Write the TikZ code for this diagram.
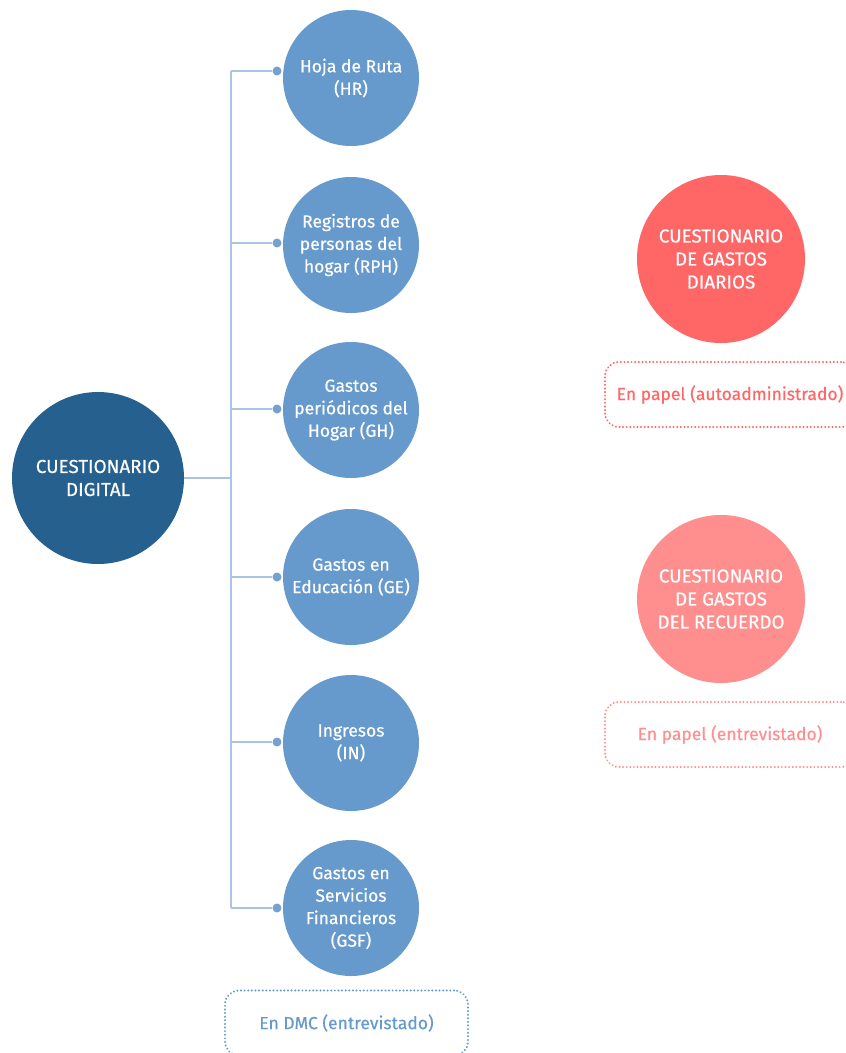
\documentclass[tikz,border=0pt]{standalone}
\usepackage{fontspec}
\setmainfont{Fira Sans}[FakeBold=0.5]
\usepackage{tikz}
\usetikzlibrary{shapes}
\definecolor{dark}{HTML}{25608F}
\definecolor{mid}{HTML}{6699CC}
\definecolor{wire}{HTML}{A9C4E4}
\definecolor{coral}{HTML}{FF6666}
\definecolor{pink}{HTML}{FF8F8F}
\tikzstyle{bubble}=[circle,inner sep=0pt,text=white,align=center,font=\fontsize{17.5}{22.5}\selectfont]
\tikzstyle{big bubble}=[bubble,minimum size=168pt,font=\fontsize{18.8}{23}\selectfont]
\tikzstyle{papel}=[draw,rounded corners=14pt,line width=2.2pt,dash pattern=on 0.01pt off 3.6pt,line cap=round,minimum width=250pt,minimum height=65pt,font=\fontsize{17.5}{20}\selectfont]
\tikzstyle{pin}=[circle,fill=mid!80!wire,inner sep=0pt,minimum size=9pt]
\tikzstyle{wire line}=[wire,line width=1.3pt]

\begin{document}
\begin{tikzpicture}[x=1pt,y=-1pt]
\useasboundingbox (0,0) rectangle (846,1053);
\clip (0,0) rectangle (846,1053);
\node[big bubble,fill=dark,minimum size=172pt] (dig) at (98,478) {CUESTIONARIO\\DIGITAL};
\node[bubble,fill=mid,minimum size=136pt] (hr) at (351,78) {Hoja de Ruta\\(HR)};
\node[bubble,fill=mid,minimum size=136pt] (rph) at (351,245) {Registros de\\personas del\\hogar (RPH)};
\node[bubble,fill=mid,minimum size=136pt] (gh) at (351,410) {Gastos\\periódicos del\\Hogar (GH)};
\node[bubble,fill=mid,minimum size=136pt] (ge) at (351,577) {Gastos en\\Educación (GE)};
\node[bubble,fill=mid,minimum size=136pt] (in) at (351,743) {Ingresos\\(IN)};
\node[bubble,fill=mid,minimum size=136pt] (gsf) at (351,908) {Gastos en\\Servicios\\Financieros\\(GSF)};
\node[big bubble,fill=coral] (diarios) at (721,259) {CUESTIONARIO\\DE GASTOS\\DIARIOS};
\node[big bubble,fill=pink] (recuerdo) at (721,599) {CUESTIONARIO\\DE GASTOS\\DEL RECUERDO};
\node[papel,draw=coral,text=coral] (pdiarios) at (730,394.5) {En papel (autoadministrado)};
\node[papel,draw=pink,text=pink] (precuerdo) at (730,734.5) {En papel (entrevistado)};
\node[papel,draw=mid,text=mid,minimum width=243pt] (pdmc) at (346.5,1023) {En DMC (entrevistado)};
% tronco
\coordinate (t0) at (231,478);
\foreach \n/\y in {hr/71,rph/243,gh/409,ge/577,in/742,gsf/908}{
  \coordinate (t\n) at (231,\y);
  \node[pin] (p\n) at (277,\y) {};
  \draw[wire line] (t\n) -- (p\n);
}
\draw[wire line] (dig) -- (t0);
\draw[wire line] (thr) -- (tgsf);
\end{tikzpicture}
\end{document}
